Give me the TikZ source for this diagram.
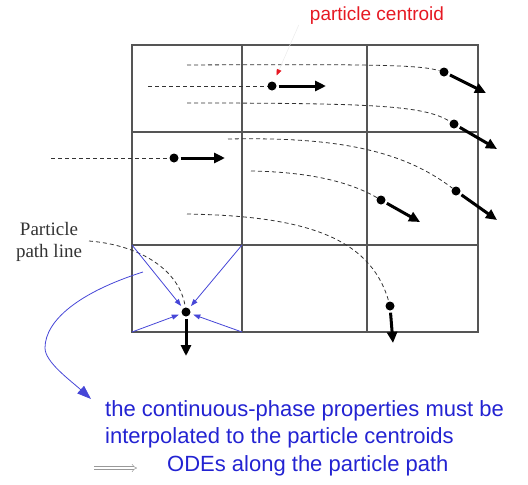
\documentclass[tikz,border=0pt]{standalone}
\usepackage{fontspec}
\setmainfont{Liberation Sans}
\newfontfamily\serifface{Liberation Serif}
\usetikzlibrary{arrows.meta, positioning}

\definecolor{gridgray}{RGB}{85,85,85}
\definecolor{lineblue}{RGB}{70,70,215}
\definecolor{textblue}{RGB}{35,35,210}
\definecolor{centroidred}{RGB}{230,25,35}

\begin{document}
\begin{tikzpicture}[
    x=1pt, y=-1pt,
    % Styles
    cell/.style={
        draw=gridgray,
        line width=1.2pt
    },
    dot/.style={
        circle,
        fill=black,
        inner sep=0pt,
        minimum size=9pt
    },
    pathline/.style={
        dash pattern=on 4pt off 3pt,
        line width=0.8pt,
        black!80
    },
    velo/.style={
        -{Triangle[length=11pt,width=10pt]},
        line width=3pt,
        shorten <=2pt
    },
    interp/.style={
        -{Triangle[length=7pt,width=5pt]},
        draw=lineblue,
        line width=0.8pt,
        shorten >=3pt
    },
    note/.style={
        font=\fontsize{22}{27}\selectfont,
        text=textblue,
        align=left,
        inner sep=0pt
    }
]
\useasboundingbox (0,0) rectangle (528,485);

% Grid of cells
\draw[cell] (132,45) rectangle (478,332);
\foreach \x in {242,367}
    \draw[cell] (\x,45) -- (\x,332);
\foreach \y in {132,245}
    \draw[cell] (132,\y) -- (478,\y);

% Corners of the lower left cell
\coordinate (cnw) at (132,245);
\coordinate (cne) at (242,245);
\coordinate (csw) at (132,332);
\coordinate (cse) at (242,332);

% Particles
\node[dot] (pa) at (444,72) {};
\node[dot] (pb) at (454,124) {};
\node[dot] (pc) at (456,191) {};
\node[dot] (pd) at (381,200) {};
\node[dot] (pe) at (390,306) {};
\node[dot] (pf) at (272,86) {};
\node[dot] (pg) at (174,158) {};
\node[dot] (ph) at (186,312) {};

% Start points of the path lines
\coordinate (sa) at (187,65);
\coordinate (sb) at (187,103);
\coordinate (sc) at (228,139);
\coordinate (sd) at (251,171);
\coordinate (se) at (187,214);
\coordinate (sf) at (148,86);
\coordinate (sg) at (51,158);
\coordinate (sh) at (89,241);

% Path lines
\draw[pathline] (sa) .. controls (380,64) and (420,65) .. (pa);
\draw[pathline] (sb) .. controls (380,103) and (425,106) .. (pb);
\draw[pathline] (sc) .. controls (330,137) and (400,148) .. (pc);
\draw[pathline] (sd) .. controls (310,172) and (350,182) .. (pd);
\draw[pathline] (se) .. controls (300,216) and (370,235) .. (pe);
\draw[pathline] (sf) -- (pf);
\draw[pathline] (sg) -- (pg);
\draw[pathline] (sh) .. controls (140,245) and (180,270) .. (ph);

% Velocity ends
\coordinate (va) at (486,93);
\coordinate (vb) at (497,149);
\coordinate (vc) at (497,220);
\coordinate (vd) at (420,222);
\coordinate (ve) at (393,343);
\coordinate (vf) at (326,86);
\coordinate (vg) at (225,158);
\coordinate (vh) at (186,356);

% Velocity arrows
\foreach \p in {a,b,c,d,e,f,g,h}
    \draw[velo] (p\p) -- (v\p);

% Interpolation from the cell corners
\foreach \c in {cnw,cne,csw,cse}
    \draw[interp] (\c) -- (ph);

% Labels
\node[font=\fontsize{19}{23}\selectfont, text=centroidred, inner sep=0pt]
    (centroidlbl) at (377,16) {particle centroid};
\draw[black!8, line width=0.5pt, shorten >=7pt,
      -{Triangle[length=6pt,width=5pt,color=centroidred]}]
    ([xshift=-11pt]centroidlbl.south west) -- (pf);

\node[font=\serifface\fontsize{19}{22}\selectfont, align=center, inner sep=0pt,
      text=black!80] (pathlbl) at (49,242) {Particle\\path line};

\node[note, anchor=west] (props) at (105,424.5) {
    the continuous-phase properties must be\\
    interpolated to the particle centroids
};
\node[note, anchor=west] (odes) at (167,466) {ODEs along the particle path};

% Implies sign
\coordinate (imptail) at (94,468);
\coordinate (imphead) at (137,468);
\draw[black!40, line width=0.5pt, double distance=2.2pt, -{Implies}]
    (imptail) -- (imphead);

% Blue curved arrow to the note
\coordinate (bstart) at (143,272);
\coordinate (btip) at (91,399);
\draw[lineblue, line width=0.8pt, -{Triangle[length=14pt,width=10pt]}]
    (bstart) .. controls (80,292) and (45,320) .. (45,348)
    .. controls (45,362) and (70,380) .. (btip);

\end{tikzpicture}
\end{document}
